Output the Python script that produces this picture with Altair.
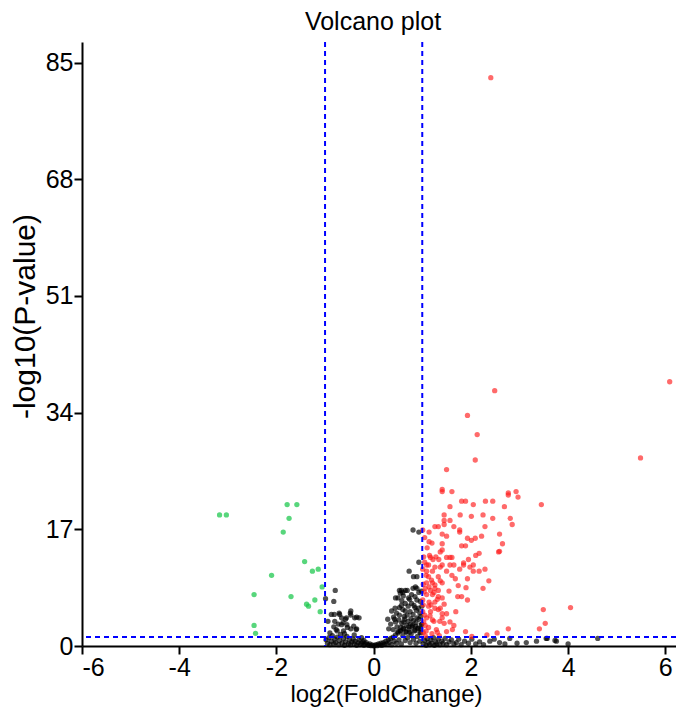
import altair as alt
import pandas as pd

# ---------------- data ----------------
x_ticks = [-6, -4, -2, 0, 2, 4, 6]
y_ticks = [0, 17, 34, 51, 68, 85]
fc_cut = [-1, 1]
p_cut = [1.3]

# down-regulated (green)
down_fc = [-3.17, -3.03, -1.78, -1.58, -1.74, -1.86, -1.42, -1.14, -1.26, -2.10,
           -1.06, -2.46, -1.70, -1.21, -1.38, -1.34, -1.10, -2.46, -2.43]
down_p = [19.1, 19.1, 20.6, 20.6, 18.6, 16.6, 12.3, 11.2, 10.9, 10.3,
          8.6, 7.5, 7.2, 6.7, 6.1, 5.8, 5.0, 3.0, 1.85]

# up-regulated (red)
up_fc = [2.41, 6.09, 5.49, 4.05, 3.49, 3.53, 2.77, 3.41,
         2.49, 1.93, 2.13, 2.09, 1.50, 1.41, 1.41, 1.61, 2.77, 2.77, 2.93, 2.97,
         1.81, 1.89, 2.30, 2.45, 1.57, 2.05, 2.69, 3.45, 2.81, 2.85, 2.59, 2.65, 2.59,
         1.45, 1.78, 2.25, 2.01, 2.45, 1.57, 1.45, 1.45, 1.26, 1.33, 1.65, 2.29,
         1.14, 1.01, 1.77, 1.77, 1.41, 1.50, 1.93, 2.01, 2.09, 2.22, 1.14, 1.81, 1.89,
         1.41, 1.41, 1.37, 2.57, 2.17, 1.17, 1.34, 1.50, 1.57, 1.61, 1.09, 1.13, 1.26,
         1.37, 1.41, 1.57, 1.65, 1.85, 1.85, 2.05, 1.98, 1.01, 1.09, 1.21, 1.50, 1.61,
         1.77, 2.17, 2.29, 2.05, 1.93, 2.37, 1.13, 1.33, 1.37, 1.09, 1.21, 1.26, 1.41,
         1.06, 1.14, 1.17, 1.26, 1.33, 2.25, 1.09, 1.21, 1.33, 1.41, 1.73, 1.81, 1.93,
         1.01, 1.14, 1.26, 1.26, 1.37, 1.13, 1.01, 1.17, 1.33, 1.41, 1.69, 1.50, 1.09,
         1.21, 1.41, 1.57, 1.45, 1.65, 1.06, 1.13, 1.29, 1.89, 2.33, 2.54, 2.02,
         1.03, 1.05, 1.08, 1.02, 1.04, 1.02, 1.05, 1.03, 1.08, 1.02, 1.15, 1.22, 1.28,
         1.19, 1.24, 1.31, 1.18, 1.16, 1.24, 1.36, 1.31, 1.50, 1.62, 1.45, 1.55, 1.68,
         1.74, 1.90, 1.95, 2.10, 1.06, 1.20, 1.35, 1.10, 1.05, 1.20]
up_p = [82.8, 38.5, 27.4, 5.6, 5.3, 3.3, 2.5, 2.5,
        37.2, 33.6, 30.8, 27.1, 25.7, 22.8, 22.5, 22.5, 22.3, 22.0, 22.5, 21.7,
        21.1, 21.1, 21.1, 21.1, 20.3, 20.6, 20.3, 20.6, 18.6, 17.7, 16.3, 14.9, 13.8,
        19.1, 19.1, 19.1, 18.9, 18.6, 18.3, 18.3, 17.7, 17.4, 17.4, 17.4, 17.4,
        16.6, 16.9, 16.9, 16.6, 16.3, 16.0, 15.7, 15.4, 15.7, 16.0, 15.2, 14.6, 14.6,
        14.9, 14.0, 13.7, 13.7, 13.5, 12.9, 12.6, 12.9, 12.9, 12.9, 11.8, 11.8, 11.5,
        11.5, 11.8, 11.8, 11.8, 12.1, 11.8, 11.8, 11.5, 11.2, 10.9, 10.9, 10.9, 10.3,
        11.2, 10.9, 11.2, 10.9, 9.8, 9.5, 10.1, 10.1, 9.5, 9.2, 9.2, 8.9, 9.2,
        8.4, 8.6, 8.1, 8.4, 8.1, 8.4, 7.5, 7.5, 7.2, 7.0, 7.2, 7.2, 6.7,
        6.7, 6.4, 6.4, 5.5, 5.5, 5.8, 5.0, 5.0, 5.3, 4.7, 5.0, 4.7, 4.1,
        3.8, 4.1, 3.5, 3.3, 3.0, 3.0, 2.7, 2.4, 2.1, 1.6, 1.9, 1.4,
        13.0, 12.2, 10.3, 9.0, 7.9, 6.0, 4.5, 3.5, 2.2, 2.0, 13.2, 12.6, 13.0,
        9.6, 7.8, 6.8, 6.0, 4.4, 3.6, 3.6, 2.0, 2.1, 2.4, 6.1, 8.0, 9.8,
        8.8, 8.5, 12.6, 13.2, 1.5, 1.8, 1.5, 14.3, 15.8, 15.0]

# not significant (black)
ns_fc = [
    # bottom band
    -0.98, -0.95, -0.92, -0.90, -0.87, -0.85, -0.82, -0.80, -0.78, -0.75, -0.72, -0.70,
    -0.68, -0.65, -0.62, -0.60, -0.58, -0.55, -0.52, -0.50, -0.48, -0.45, -0.42, -0.40,
    -0.38, -0.35, -0.32, -0.30, -0.28, -0.25, -0.22, -0.20, -0.18, -0.15, -0.12, -0.10,
    -0.08, -0.05, -0.03, 0.00, 0.02, 0.05, 0.07, 0.10, 0.12, 0.15, 0.17, 0.20, 0.22,
    0.25, 0.27, 0.30, 0.32, 0.35, 0.37, 0.40, 0.42, 0.45, 0.47, 0.50, 0.52, 0.55, 0.57,
    0.60, 0.62, 0.65, 0.67, 0.70, 0.72, 0.75, 0.77, 0.80, 0.82, 0.85, 0.87, 0.90, 0.92,
    0.95, 0.97, 0.99,
    # right cloud
    0.50, 0.53, 0.57, 0.61, 0.65, 0.69, 0.78, 0.81, 0.89, 0.89, 0.45, 0.65, 0.78, 0.72,
    0.93, 0.96, 0.85, 0.58, 0.74, 0.98,
    0.37, 0.53, 0.65, 0.85, 0.41, 0.53, 0.69, 0.81, 0.89, 0.29, 0.60, 0.75, 0.92, 0.95,
    0.47, 0.71, 0.88, 0.63, 0.77, 0.97, 0.57, 0.83, 0.99, 0.44,
    0.35, 0.40, 0.45, 0.48, 0.52, 0.55, 0.58, 0.61, 0.64, 0.66, 0.68, 0.71, 0.73, 0.76,
    0.79, 0.82, 0.84, 0.87, 0.90, 0.93, 0.95, 0.98, 0.31, 0.43, 0.50, 0.62, 0.74, 0.86,
    0.97, 0.56,
    0.93, 0.73, 0.82, 0.89, 0.86, 0.81, 0.93, 0.55, 0.60,
    # left cloud
    -0.79, -0.82, -0.99, -0.87, -0.81, -0.70, -0.66, -0.56, -0.48, -0.39, -0.30, -0.94,
    -0.80, -0.73, -0.63, -0.54, -0.41, -0.36, -0.77, -0.71, -0.58, -0.47, -0.47, -0.35,
    -0.55, -0.82, -0.66, -0.75, -0.62, -0.47, -0.35, -0.90, -0.60, -0.40, -0.25, -0.20,
    # right of +1, below threshold
    1.02, 1.05, 1.08, 1.10, 1.12, 1.15, 1.18, 1.20, 1.23, 1.25, 1.28, 1.30, 1.33, 1.36,
    1.40, 1.43, 1.47, 1.50, 1.55, 1.60, 1.65, 1.70, 1.75, 1.80, 1.87, 1.95, 2.02, 2.10,
    2.18, 2.26, 2.39, 2.48, 2.59, 2.70, 2.80, 2.95, 3.14, 3.35, 3.55, 3.57, 3.73, 3.76,
    4.00, 4.61]
ns_p = [
    0.9, 0.4, 1.2, 0.2, 0.7, 1.5, 0.3, 1.0, 0.5, 1.3, 0.2, 0.8,
    1.7, 0.4, 1.1, 0.1, 0.6, 1.4, 0.3, 0.9, 0.2, 0.6, 1.0, 0.3,
    0.7, 0.1, 0.5, 0.9, 0.2, 0.4, 0.6, 0.1, 0.3, 0.5, 0.2, 0.1,
    0.3, 0.05, 0.15, 0.02, 0.1, 0.2, 0.05, 0.3, 0.15, 0.4, 0.1, 0.5, 0.25,
    0.7, 0.3, 0.9, 0.5, 1.1, 0.2, 1.3, 0.7, 1.6, 0.4, 1.9, 0.9, 2.2, 0.3,
    1.5, 2.5, 0.8, 2.0, 1.2, 2.8, 0.5, 1.7, 3.0, 1.0, 2.3, 0.4, 1.4, 2.6,
    0.7, 1.9, 3.2,
    7.0, 8.1, 8.1, 7.3, 8.1, 8.1, 7.5, 8.4, 8.4, 6.7, 7.0, 6.2, 6.2, 7.0,
    7.8, 6.5, 7.2, 6.6, 6.8, 8.0,
    5.1, 5.6, 5.1, 5.6, 4.2, 4.5, 4.5, 4.6, 4.1, 3.9, 5.3, 5.0, 5.5, 4.8,
    4.8, 5.8, 5.2, 4.3, 4.0, 4.3, 5.9, 5.9, 5.8, 5.5,
    3.2, 2.4, 3.5, 2.8, 3.8, 2.2, 3.3, 2.6, 3.9, 2.1, 3.0, 3.6, 2.4, 3.2,
    2.8, 3.7, 2.2, 3.4, 2.6, 3.9, 2.0, 3.1, 2.5, 3.9, 2.1, 3.5, 2.0, 2.9,
    2.5, 2.7,
    12.2, 10.9, 10.1, 10.1, 8.6, 16.9, 16.6, 7.7, 7.8,
    8.1, 6.5, 6.9, 4.6, 4.6, 4.6, 4.1, 4.1, 4.8, 4.1, 4.1, 3.6,
    3.6, 3.2, 3.4, 2.7, 2.9, 2.4, 2.4, 4.8, 3.9, 5.1, 4.5, 4.2,
    3.1, 2.8, 3.1, 2.2, 2.2, 2.5, 2.5, 1.9, 1.8, 1.6, 1.2, 0.8,
    0.3, 0.8, 0.1, 1.1, 0.5, 0.2, 0.9, 0.4, 1.2, 0.1, 0.6, 0.3, 1.0, 0.2,
    0.7, 0.4, 1.1, 0.2, 0.6, 0.9, 0.3, 0.5, 1.0, 0.2, 0.7, 0.4, 1.0, 0.3,
    0.6, 0.2, 0.7, 1.0, 0.5, 0.3, 1.1, 0.4, 0.5, 0.7, 1.1, 1.1, 0.8, 0.7,
    0.3, 1.1]

# ---------------- chart ----------------
FONT = "Liberation Sans"
xs = alt.Scale(domain=[-6, 6.22], nice=False, zero=False)
ys = alt.Scale(domain=[0, 88], nice=False, zero=False)

xenc = alt.X("fc:Q", scale=xs,
             axis=alt.Axis(values=x_ticks, title="log2(FoldChange)",
                           labelExpr="toString(datum.value)", titleX=304,
                           titlePadding=2))
yenc = alt.Y("p:Q", scale=ys,
             axis=alt.Axis(values=y_ticks, title="-log10(P-value)",
                           labelExpr="toString(datum.value)",
                           titleFontSize=30, titleX=-42, titleY=274))

def pts(fc, p, color, op):
    df = pd.DataFrame({"fc": fc, "p": p})
    return alt.Chart(df).mark_circle(size=28, opacity=op, color=color).encode(x=xenc, y=yenc)

ns_layer = pts(ns_fc, ns_p, "#000000", 0.68)
up_layer = pts(up_fc, up_p, "#ff1a1a", 0.65)
down_layer = pts(down_fc, down_p, "#20c850", 0.75)

vrule = alt.Chart(pd.DataFrame({"fc": fc_cut})).mark_rule(
    color="#0000ff", strokeDash=[5, 4], strokeWidth=2).encode(x=alt.X("fc:Q", scale=xs))
hrule = alt.Chart(pd.DataFrame({"p": p_cut})).mark_rule(
    color="#0000ff", strokeDash=[5, 4], strokeWidth=2).encode(y=alt.Y("p:Q", scale=ys))

chart = alt.layer(ns_layer, up_layer, down_layer, vrule, hrule).properties(
    width=594, height=604,
    title=alt.TitleParams("Volcano plot", font=FONT, fontSize=25, fontWeight="normal",
                          color="black", anchor="middle", dx=-6, offset=6),
    autosize=alt.AutoSizeParams(type="none"),
    padding={"left": 74, "top": 34, "right": 0, "bottom": 66},
).configure_view(stroke=None).configure_axis(
    grid=False, domainColor="black", domainWidth=2, tickColor="black", tickWidth=2,
    tickSize=8, labelFont=FONT, labelFontSize=25, labelColor="black", labelPadding=1,
    titleFont=FONT, titleFontSize=24, titleFontWeight="normal", titleColor="black",
)

chart.save("out.html", embed_options={"renderer": "svg", "actions": False})
